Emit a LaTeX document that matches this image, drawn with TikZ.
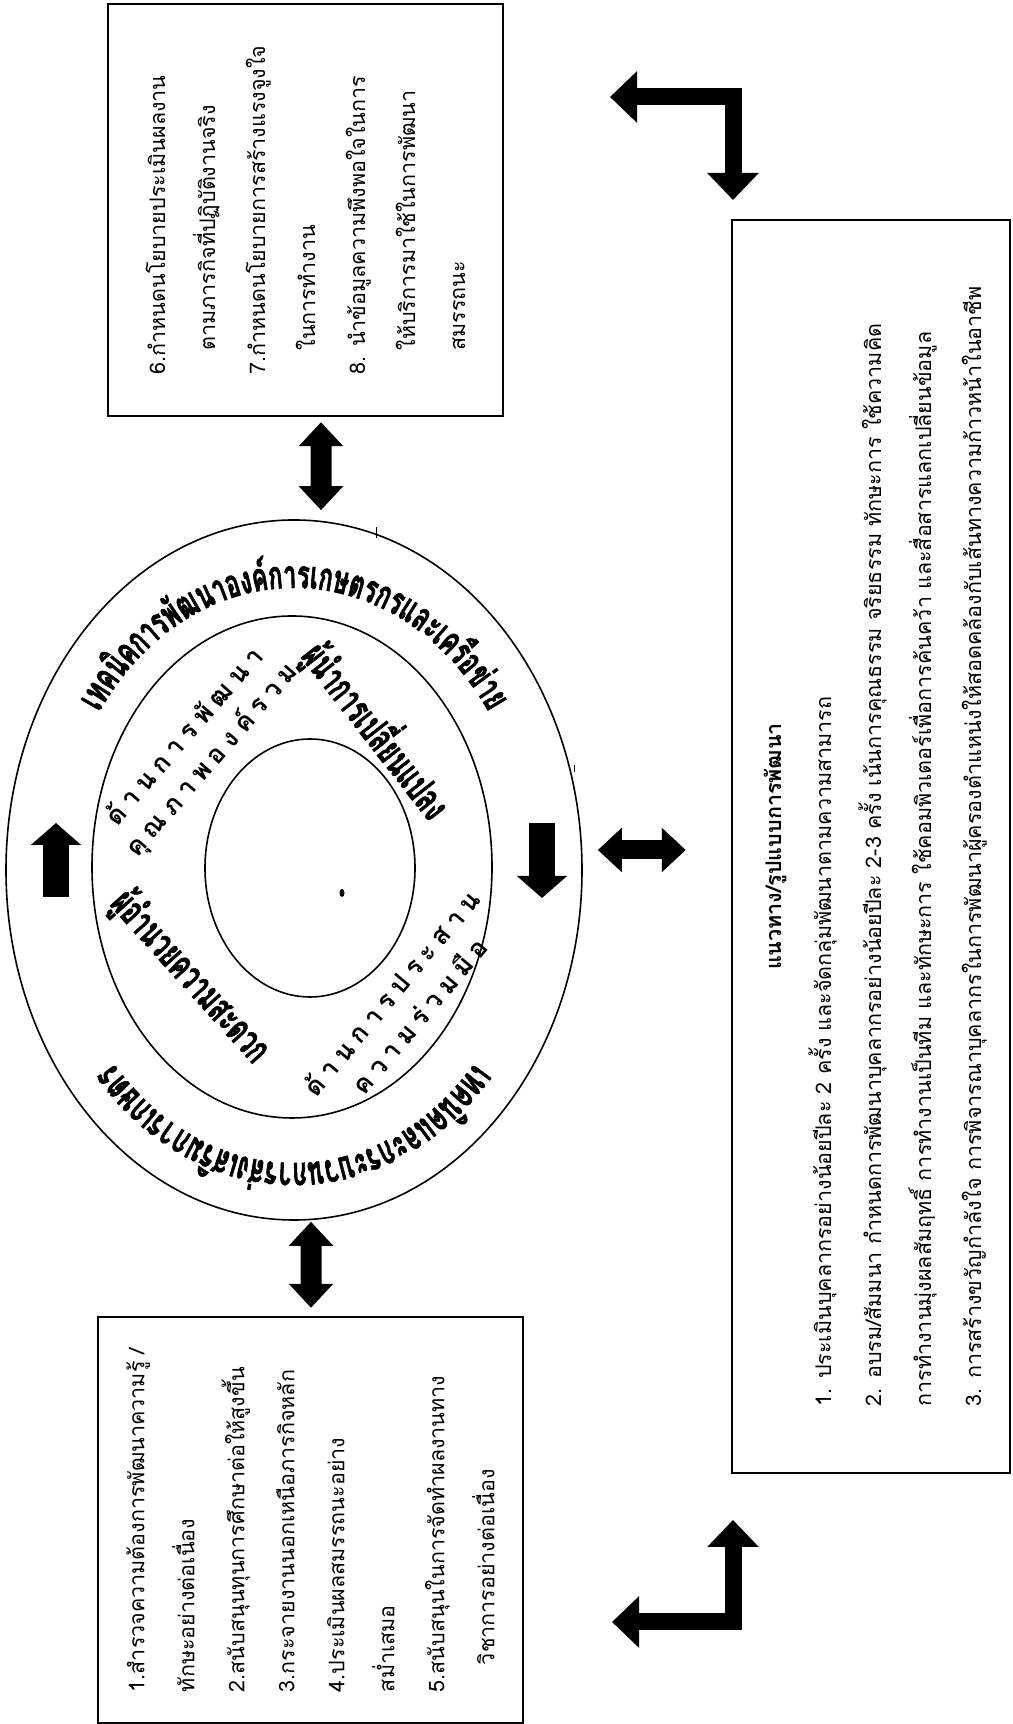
\documentclass[tikz,border=0pt]{standalone}
\usepackage{fontspec}
\newfontfamily\thaifont[Script=Thai]{Loma}
\newfontfamily\wordfont[Script=Thai,FakeStretch=0.6,FakeBold=1.5]{Loma}
\newfontfamily\spacedfont[Script=Thai,LetterSpace=25]{Loma}
\usetikzlibrary{shapes.geometric,arrows.meta,decorations.text,calc}

\tikzset{
  listbox/.style={draw, line width=2.4bp, rotate=90, inner sep=0pt, align=left,
    font=\thaifont\fontsize{21.5bp}{50bp}\selectfont},
  ring/.style={draw, ellipse, line width=1.6bp, inner sep=0pt},
  linkarrow/.style={line width=21bp, {Triangle[length=24bp,width=43bp]}-{Triangle[length=24bp,width=43bp]}},
  turnarrow/.style={line width=17bp, line join=miter, {Triangle[length=27bp,width=50bp]}-{Triangle[length=27bp,width=50bp]}},
  cyclearrow/.style={line width=26bp, -{Triangle[length=22bp,width=49bp]}},
  sidetext/.style={align=center, inner sep=0pt, font=\spacedfont\bfseries\fontsize{26bp}{36bp}\selectfont},
  boldtext/.style={inner sep=0pt, font=\wordfont\bfseries\fontsize{40bp}{40bp}\selectfont},
}

\begin{document}
\begin{tikzpicture}[x=1bp, y=1bp]
\fill[white] (0,0) rectangle (1012,1724);
\useasboundingbox (0,0) rectangle (1012,1724);

% rings
\node[ring, minimum width=576bp, minimum height=700bp] (outer) at (294,854) {};
\node[ring, minimum width=400bp, minimum height=502bp] (middle) at (292,857) {};
\node[ring, minimum width=210bp, minimum height=258bp] (inner) at (310,856) {};

% boxes
\node[listbox, minimum width=412bp, minimum height=395bp] (policy) at (305.5,1514) {
6.กำหนดนโยบายประเมินผลงาน\\
\hspace*{24bp}ตามภารกิจที่ปฏิบัติงานจริง\\
7.กำหนดนโยบายการสร้างแรงจูงใจ\\
\hspace*{24bp}ในการทำงาน\\
8. นำข้อมูลความพึงพอใจในการ\\
\hspace*{24bp}ให้บริการมาใช้ในการพัฒนา\\
\hspace*{24bp}สมรรถนะ};
\node[listbox, minimum width=406bp, minimum height=425bp] (support) at (310.5,204) {
1.สำรวจความต้องการพัฒนาความรู้ /\\
ทักษะอย่างต่อเนื่อง\\
2.สนับสนุนทุนการศึกษาต่อให้สูงขึ้น\\
3.กระจายงานนอกเหนือภารกิจหลัก\\
4.ประเมินผลสมรรถนะอย่าง\\
สม่ำเสมอ\\
5.สนับสนุนในการจัดทำผลงานทาง\\
\hspace*{27bp}วิชาการอย่างต่อเนื่อง};
\node[listbox, minimum width=1253bp, minimum height=278bp] (guide) at (871,877.5) {%
\begin{tabular}{@{}l@{}}
\multicolumn{1}{@{}c@{}}{\bfseries แนวทาง/รูปแบบการพัฒนา}\\
1. ประเมินบุคลากรอย่างน้อยปีละ 2 ครั้ง และจัดกลุ่มพัฒนาตามความสามารถ\\
2. อบรม/สัมมนา กำหนดการพัฒนาบุคลากรอย่างน้อยปีละ 2-3 ครั้ง เน้นการคุณธรรม จริยธรรม ทักษะการ ใช้ความคิด\\
การทำงานมุ่งผลสัมฤทธิ์ การทำงานเป็นทีม และทักษะการ ใช้คอมพิวเตอร์เพื่อการค้นคว้า และสื่อสารแลกเปลี่ยนข้อมูล\\
3. การสร้างขวัญกำลังใจ การพิจารณาบุคลากรในการพัฒนาผู้ครองตำแหน่งให้สอดคล้องกับเส้นทางความก้าวหน้าในอาชีพ
\end{tabular}};

% links
\draw[linkarrow] ($(policy.west)+(15.5,-5)$) -- ($(outer.north)+(27,9)$);
\draw[linkarrow] ($(outer.south)+(17,-1)$) -- ($(support.east)+(0.5,8)$);
\draw[linkarrow, line width=19bp] ($(outer.east)+(15,20)$) -- ($(guide.north)+(-45,-3.5)$);

% turning arrows
\coordinate (topA) at (610,1627);
\coordinate (topC) at (733,1627);
\coordinate (topB) at (733,1524);
\draw[turnarrow] (topA) -- (topC) -- (topB);
\coordinate (botA) at (612,102);
\coordinate (botC) at (733,102);
\coordinate (botB) at (733,204);
\draw[turnarrow] (botA) -- (botC) -- (botB);

% cycle arrows
\coordinate (leftlow) at (56,827);
\coordinate (lefthigh) at (56,901);
\draw[cyclearrow] (leftlow) -- (lefthigh);
\coordinate (righthigh) at (542,901);
\coordinate (rightlow) at (542,826);
\draw[cyclearrow] (righthigh) -- (rightlow);

% ring texts
\path[decorate, decoration={text along path, text align=center,
  text={|\wordfont\bfseries\fontsize{39bp}{39bp}\selectfont|เทค{นิ}คการ{พั}ฒนาอง{ค์}การเกษตรกรและเค{รื}อ{ข่}าย}}]
  (294,854) ++(178:235 and 282) arc[start angle=178, end angle=2, x radius=235, y radius=282];
\path[decorate, decoration={text along path, text align=center,
  text={|\wordfont\bfseries\fontsize{40bp}{40bp}\selectfont|เทค{นิ}คและกระบวนการ{ส่}งเส{ริ}มการเกษตร}}]
  (294,854) ++(-2:240 and 293) arc[start angle=-2, end angle=-178, x radius=240, y radius=293];

\node[sidetext, rotate=49] (quality) at (199,975) {ด้านการพัฒนา\\คุณภาพองค์รวม};
\node[sidetext, rotate=50] (coop) at (405,720) {ด้านการประสาน\\ความร่วมมือ};
\node[boldtext, rotate=-52] (change) at (377,994) {ผู้นำการเปลี่ยนแปลง};
\node[boldtext, rotate=-48] (team) at (190,747) {ผู้อำนวยความสะดวก};

% marks
\draw[line width=1bp] (376,1197) -- (376,1186);
\draw[line width=1bp] (574,959) -- (574,952);
\fill (342,831) ellipse (2.5 and 4);
\end{tikzpicture}
\end{document}
